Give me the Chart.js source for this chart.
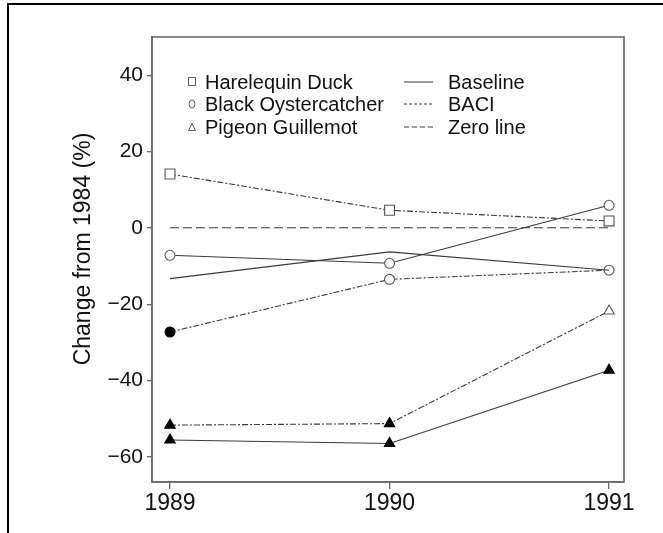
<!DOCTYPE html>
<html><head><meta charset="utf-8">
<script src="https://cdn.jsdelivr.net/npm/chart.js@4/dist/chart.umd.min.js"></script>
<style>
html,body{margin:0;padding:0;background:#fff;}
#wrap{position:relative;width:663px;height:533px;overflow:hidden;background:#fff;}
#frame{position:absolute;left:7px;top:3px;width:700px;height:600px;border-left:2px solid #000;border-top:2px solid #000;}
canvas{position:absolute;left:0;top:0;}
</style></head><body>
<div id="wrap"><div id="frame"></div><canvas id="c" width="663" height="533"></canvas></div>
<script>
// ---- data ----
const years = [1989, 1990, 1991];
const duckBaci = [14.1, 4.6, 1.8];
const duckBaseline = [-13.3, -6.3, -11.1];
const oysterBaseline = [-7.2, -9.3, 5.9];
const oysterBaci = [-27.3, -13.5, -11.1];
const guillemotBaci = [-51.7, -51.3, -21.8];
const guillemotBaseline = [-55.6, -56.5, -37.3];
const zeroLine = [0, 0, 0];
const yTicks = [-60, -40, -20, 0, 20, 40];
const speciesNames = ['Harelequin Duck', 'Black Oystercatcher', 'Pigeon Guillemot'];
const lineNames = ['Baseline', 'BACI', 'Zero line'];
const yTitle = 'Change from 1984 (%)';

const FONT = '"Liberation Sans", Arial, Helvetica, sans-serif';
const LINE = '#3a3a3a';
const MARK = '#555';
const SOLID = [];
const BACI_DASH = [6, 2, 2, 2];
const ZERO_DASH = [9, 4];

const pts = arr => years.map((x, i) => ({x: x, y: arr[i]}));
function ds(arr, style, dash, fills, radius) {
  return {
    data: pts(arr), showLine: true, borderColor: LINE, borderWidth: 1.1, borderDash: dash,
    pointStyle: style, pointRadius: radius, pointHoverRadius: radius,
    pointBackgroundColor: fills, pointBorderColor: MARK, pointBorderWidth: 1.1,
    tension: 0, clip: false
  };
}
const W = '#fff', B = '#000';
const datasets = [
  ds(zeroLine, 'circle', ZERO_DASH, W, 0),
  ds(duckBaseline, 'circle', SOLID, W, 0),
  ds(duckBaci, 'rect', BACI_DASH, [W, W, W], 7),
  ds(oysterBaseline, 'circle', SOLID, [W, W, W], 5),
  ds(oysterBaci, 'circle', BACI_DASH, [B, W, W], 5),
  ds(guillemotBaci, 'triangle', BACI_DASH, [B, B, W], 6),
  ds(guillemotBaseline, 'triangle', SOLID, [B, B, B], 6)
];
datasets.forEach(d => {
  if (Array.isArray(d.pointBackgroundColor)) {
    d.pointBorderColor = d.pointBackgroundColor.map(c => c === B ? B : MARK);
  }
});

const PLOT = {left: 152, top: 37, right: 624, bottom: 482};

const deco = {
  id: 'deco',
  beforeDatasetsDraw(chart) {
    const ctx = chart.ctx, a = chart.chartArea;
    ctx.save();
    ctx.strokeStyle = '#6a6a6a';
    ctx.lineWidth = 1.6;
    ctx.strokeRect(a.left, a.top, a.right - a.left, a.bottom - a.top);
    ctx.restore();
  },
  afterDraw(chart) {
    const ctx = chart.ctx;
    ctx.save();
    // y axis title
    ctx.fillStyle = '#111';
    ctx.font = '23px ' + FONT;
    ctx.textAlign = 'center';
    ctx.textBaseline = 'middle';
    ctx.translate(84, 249);
    ctx.rotate(-Math.PI / 2);
    ctx.fillText(yTitle, 0, 0);
    ctx.restore();

    // legend
    ctx.save();
    ctx.font = '20px ' + FONT;
    ctx.fillStyle = '#111';
    ctx.textBaseline = 'middle';
    ctx.textAlign = 'left';
    const rows = [82, 104, 127];
    const styles = ['rect', 'circle', 'triangle'];
    const dashes = [SOLID, [3, 2], [5, 3]];
    for (let i = 0; i < 3; i++) {
      const y = rows[i];
      ctx.strokeStyle = MARK; ctx.lineWidth = 1; ctx.setLineDash([]);
      ctx.beginPath();
      if (styles[i] === 'rect') ctx.rect(188.5, y - 4.5, 7, 8);
      else if (styles[i] === 'circle') ctx.ellipse(192, y, 3, 4, 0, 0, Math.PI * 2);
      else { ctx.moveTo(188.5, y + 3.5); ctx.lineTo(192, y - 3.5); ctx.lineTo(195.5, y + 3.5); ctx.closePath(); }
      ctx.stroke();
      ctx.fillText(speciesNames[i], 205, y + 1);
      ctx.strokeStyle = LINE; ctx.setLineDash(dashes[i]);
      ctx.beginPath(); ctx.moveTo(404, y); ctx.lineTo(433, y); ctx.stroke();
      ctx.setLineDash([]);
      ctx.fillText(lineNames[i], 448, y + 1);
    }
    ctx.restore();
  }
};

new Chart(document.getElementById('c'), {
  type: 'scatter',
  data: {datasets: datasets},
  plugins: [deco],
  options: {
    responsive: false, animation: false, devicePixelRatio: 1,
    layout: {padding: {left: 0, top: PLOT.top, right: 663 - PLOT.right, bottom: 0}},
    plugins: {legend: {display: false}, tooltip: {enabled: false}},
    scales: {
      x: {
        type: 'linear', min: 1988.918, max: 1991.068,
        afterBuildTicks: s => { s.ticks = years.map(v => ({value: v})); },
        afterFit: s => { s.height = 533 - PLOT.bottom; },
        grid: {drawOnChartArea: false, drawTicks: true, tickLength: 7, color: '#6a6a6a', lineWidth: 1.3},
        border: {display: true, color: '#6a6a6a', width: 1.6},
        ticks: {color: '#111', font: {size: 23, family: FONT}, padding: 1, maxRotation: 0,
                callback: v => String(v)}
      },
      y: {
        type: 'linear', min: -66.6, max: 50,
        afterBuildTicks: s => { s.ticks = yTicks.map(v => ({value: v})); },
        afterFit: s => { s.width = PLOT.left; },
        grid: {drawOnChartArea: false, drawTicks: true, tickLength: 5, color: '#6a6a6a', lineWidth: 1.3},
        border: {display: true, color: '#6a6a6a', width: 1.6},
        ticks: {color: '#111', font: {size: 21, family: FONT}, padding: 4,
                callback: v => String(v).replace('-', '\u2212')}
      }
    }
  }
});
</script>
</body></html>
